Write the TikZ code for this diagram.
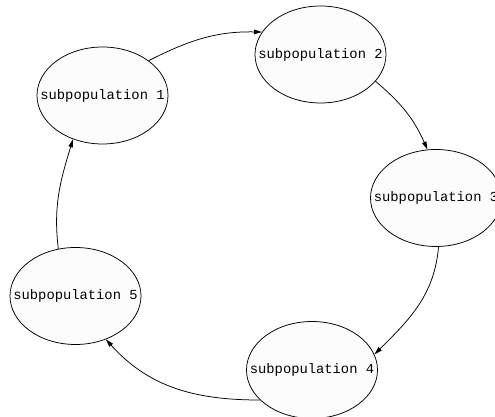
\documentclass[tikz,border=0pt]{standalone}
\usepackage{fontspec}
\usepackage{tikz}
\usetikzlibrary{arrows.meta,shapes.geometric}
\newfontfamily\subpopfont{Liberation Mono}
\newcommand{\subpop}[1]{\makebox[0pt]{subpopulation #1}}

\begin{document}
\begin{tikzpicture}[
      x=1pt,y=1pt,
      myellipse/.style={
         ellipse,
         draw=black,
         fill=black!1,
         line width=0.75pt,
         inner sep=0pt,
         minimum width=131pt,
         minimum height=97pt,
         font=\subpopfont\fontsize{13.8}{16}\selectfont},
      myarrow/.style={-{Triangle[length=8pt,width=4.5pt]},line width=0.75pt}
      ]
      \useasboundingbox (0,0) rectangle (495,417);
      \clip (0,0) rectangle (495,417);
      \node[myellipse] (s1) at (102.5,321.5) {\subpop{1}};
      \node[myellipse] (s2) at (320.5,362.5) {\subpop{2}};
      \node[myellipse] (s3) at (436,219) {\subpop{3}};
      \node[myellipse] (s4) at (312,47) {\subpop{4}};
      \node[myellipse] (s5) at (75.5,121) {\subpop{5}};

    \foreach \i/\a/\o/\j/\b/\n in {% start node/anchor/out/end node/anchor/in
      s1/37.7/27/s2/159.4/179,
      s2/-26.3/-40/s3/100.5/114,
      s3/-87.6/-95/s4/14.4/45,
      s4/210.2/180/s5/-55.7/-48,
      s5/110.4/97/s1/236.2/253}
       \draw [myarrow] (\i.\a) to[out=\o,in=\n] (\j.\b);

    \end{tikzpicture}
\end{document}
